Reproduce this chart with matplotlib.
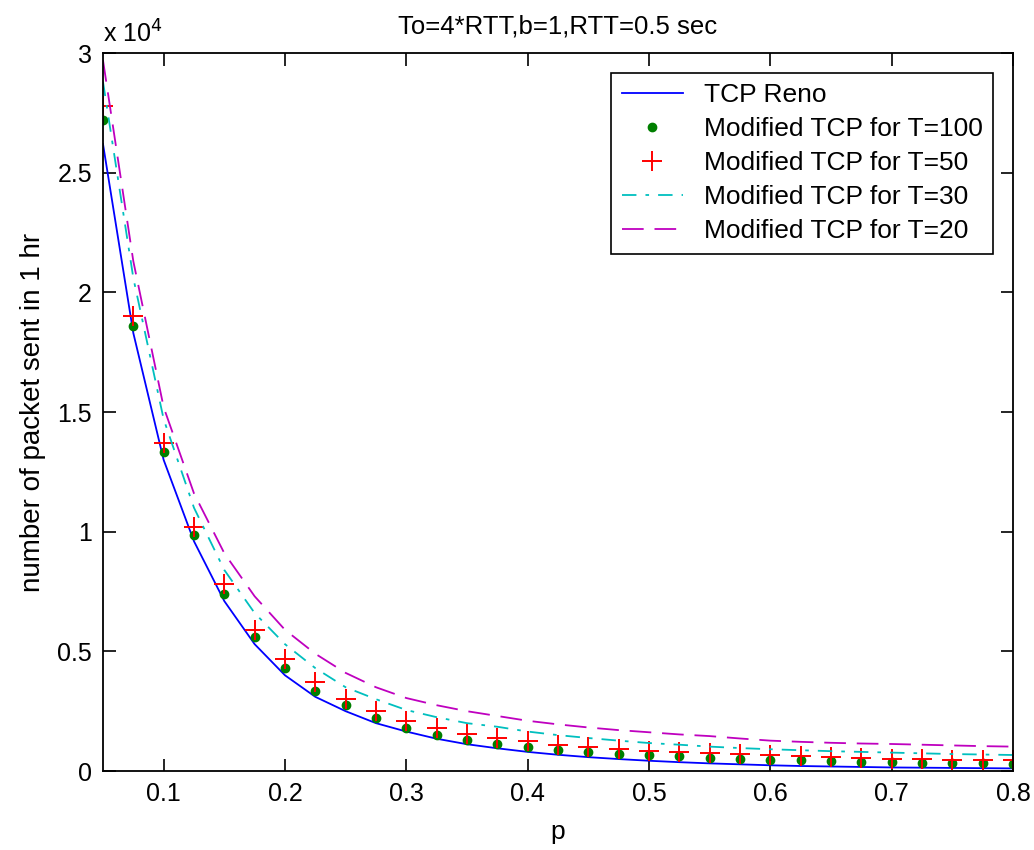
import matplotlib
matplotlib.use("Agg")
import matplotlib.pyplot as plt

# loss probability p
p = [0.05, 0.075, 0.1, 0.125, 0.15, 0.175, 0.2, 0.225, 0.25, 0.275, 0.3,
     0.325, 0.35, 0.375, 0.4, 0.425, 0.45, 0.475, 0.5, 0.525, 0.55, 0.575,
     0.6, 0.625, 0.65, 0.675, 0.7, 0.725, 0.75, 0.775, 0.8]

# packets sent in 1 hr, in units of 1e4
reno = [2.62, 1.83, 1.30, 0.96, 0.71, 0.53, 0.40, 0.31, 0.25, 0.20, 0.165,
        0.135, 0.112, 0.095, 0.08, 0.068, 0.058, 0.05, 0.043, 0.037, 0.032, 0.028,
        0.024, 0.021, 0.019, 0.017, 0.015, 0.014, 0.013, 0.012, 0.011]
t100 = [2.72, 1.86, 1.335, 0.985, 0.74, 0.56, 0.43, 0.335, 0.275, 0.22, 0.18,
        0.15, 0.13, 0.113, 0.10, 0.088, 0.078, 0.071, 0.066, 0.061, 0.056, 0.052,
        0.048, 0.045, 0.042, 0.039, 0.037, 0.035, 0.033, 0.032, 0.031]
t50 = [2.78, 1.90, 1.37, 1.02, 0.78, 0.59, 0.47, 0.37, 0.30, 0.25, 0.21,
       0.18, 0.155, 0.137, 0.125, 0.11, 0.10, 0.092, 0.085, 0.08, 0.075, 0.07,
       0.065, 0.062, 0.058, 0.055, 0.052, 0.05, 0.048, 0.046, 0.045]
t30 = [2.88, 2.06, 1.47, 1.10, 0.84, 0.66, 0.53, 0.43, 0.35, 0.30, 0.255,
       0.225, 0.20, 0.185, 0.165, 0.15, 0.138, 0.127, 0.117, 0.11, 0.102, 0.096,
       0.091, 0.087, 0.083, 0.08, 0.077, 0.074, 0.071, 0.069, 0.067]
t20 = [2.97, 2.13, 1.52, 1.16, 0.91, 0.73, 0.59, 0.49, 0.41, 0.35, 0.305,
       0.275, 0.25, 0.23, 0.21, 0.195, 0.182, 0.171, 0.162, 0.153, 0.146, 0.136,
       0.127, 0.122, 0.118, 0.115, 0.113, 0.11, 0.107, 0.104, 0.102]

x_ticks = [0.1, 0.2, 0.3, 0.4, 0.5, 0.6, 0.7, 0.8]
y_ticks = [0, 0.5, 1, 1.5, 2, 2.5, 3]
y_ticklabels = ["0", "0.5", "1", "1.5", "2", "2.5", "3"]

plt.rcParams["font.family"] = ["Liberation Sans", "DejaVu Sans"]

fig = plt.figure(figsize=(10.34, 8.5), dpi=100)
ax = fig.add_axes([0.0996, 0.0929, 0.8801, 0.8447])

ax.plot(p, reno, color="#0000ff", lw=1.3, label="TCP Reno")
ax.plot(p, t100, ls="none", marker="o", ms=6, color="#007f00",
        label="Modified TCP for T=100")
ax.plot(p, t50, ls="none", marker="+", ms=14, mew=1.4, color="#ff0000",
        label="Modified TCP for T=50")
ax.plot(p, t30, color="#00bfbf", lw=1.3, ls=(0, (8, 5, 2, 5)),
        label="Modified TCP for T=30")
ax.plot(p, t20, color="#bf00bf", lw=1.3, ls=(0, (12, 6)),
        label="Modified TCP for T=20")

ax.set_xlim(0.05, 0.8)
ax.set_ylim(0, 3)
ax.set_xticks(x_ticks)
ax.set_xticklabels([f"{v:g}" for v in x_ticks])
ax.set_yticks(y_ticks)
ax.set_yticklabels(y_ticklabels)
ax.tick_params(direction="in", top=True, right=True, length=9, width=1.2,
               labelsize=18, pad=8)
for s in ax.spines.values():
    s.set_linewidth(1.3)

ax.text(0.0, 1.008, r"x 10$^4$", transform=ax.transAxes, fontsize=18,
        ha="left", va="bottom")
ax.set_title("To=4*RTT,b=1,RTT=0.5 sec", fontsize=18.5, pad=14)
ax.set_xlabel("p", fontsize=19, labelpad=10)
ax.set_ylabel("number of packet sent in 1 hr", fontsize=20, labelpad=8)

leg = ax.legend(loc="upper right", fontsize=19, fancybox=False,
                edgecolor="black", framealpha=1, borderaxespad=0.75,
                handlelength=2.3, handletextpad=0.8, labelspacing=0.38,
                borderpad=0.4)
leg.get_frame().set_linewidth(1.2)

fig.savefig("out.png", dpi=100)
